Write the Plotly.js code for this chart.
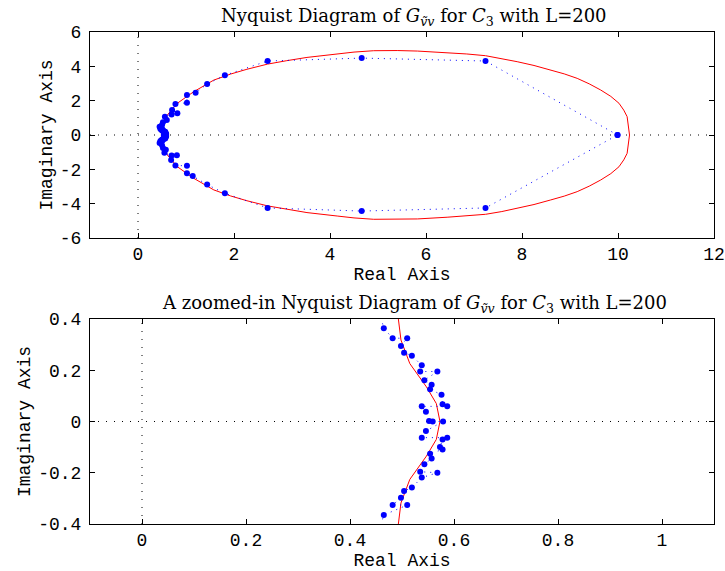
<!DOCTYPE html>
<html>
<head>
<meta charset="utf-8">
<script src="https://cdn.plot.ly/plotly-3.0.1.min.js"></script>
<style>
  html, body { margin: 0; padding: 0; background: #ffffff; }
  #chart { width: 725px; height: 571px; }
</style>
</head>
<body>
<div id="chart"></div>
<script>
// ---- Data ----
// Red curve (true frequency response), closed loop: upper half then lower half
const redRe = [10.24, 10.22, 10.19, 10.12, 10.02, 9.85, 9.64, 9.40, 9.15, 8.88, 8.59, 8.25, 7.90, 7.58, 7.24, 6.85, 6.44, 5.82, 5.40, 4.91, 4.50, 4.15, 3.52, 3.10, 2.70, 2.27, 1.93, 1.58, 1.16, 0.82, 0.61, 0.53, 0.50, 0.493, 0.498, 0.515, 0.547, 0.566, 0.573,
               0.566, 0.547, 0.515, 0.498, 0.493, 0.50, 0.53, 0.61, 0.82, 1.16, 1.58, 1.93, 2.27, 2.70, 3.10, 3.52, 4.15, 4.50, 4.91, 5.40, 5.82, 6.44, 6.85, 7.24, 7.58, 7.90, 8.25, 8.59, 8.88, 9.15, 9.40, 9.64, 9.85, 10.02, 10.12, 10.19, 10.22, 10.24];
const redIm = [0, 0.55, 1.07, 1.45, 1.85, 2.25, 2.62, 2.98, 3.30, 3.56, 3.79, 4.05, 4.27, 4.46, 4.62, 4.72, 4.79, 4.89, 4.92, 4.91, 4.83, 4.72, 4.52, 4.33, 4.13, 3.83, 3.55, 3.20, 2.52, 1.85, 1.16, 0.70, 0.50, 0.40, 0.318, 0.226, 0.135, 0.07, 0,
               -0.07, -0.135, -0.226, -0.318, -0.40, -0.50, -0.70, -1.16, -1.85, -2.52, -3.20, -3.55, -3.83, -4.13, -4.33, -4.52, -4.72, -4.83, -4.91, -4.92, -4.89, -4.79, -4.72, -4.62, -4.46, -4.27, -4.05, -3.79, -3.56, -3.30, -2.98, -2.62, -2.25, -1.85, -1.45, -1.07, -0.55, 0];

// Blue estimated points (L=200), in plotting order
const estRe = [9.99, 7.24, 4.66, 2.70, 1.81, 1.44, 1.20, 1.02, 1.02, 0.78, 0.71, 0.82, 0.70, 0.56, 0.60, 0.52, 0.50, 0.45,
               0.465, 0.482, 0.510, 0.498, 0.504, 0.519, 0.538, 0.535, 0.568, 0.543, 0.557, 0.554, 0.576, 0.578, 0.587, 0.538, 0.546, 0.552, 0.559, 0.579,
               0.546, 0.538, 0.587, 0.578, 0.573, 0.578, 0.554, 0.557, 0.543, 0.535, 0.568, 0.538, 0.519, 0.504, 0.498, 0.482, 0.510, 0.465,
               0.45, 0.50, 0.52, 0.58, 0.55, 0.70, 0.81, 0.69, 0.78, 1.02, 1.02, 1.14, 1.44, 1.81, 2.70, 4.66, 7.24, 9.99];
const estIm = [0, 4.31, 4.48, 4.31, 3.48, 2.97, 2.46, 2.33, 1.88, 1.81, 1.46, 1.26, 1.20, 1.07, 0.88, 0.75, 0.58, 0.48,
               0.364, 0.325, 0.325, 0.295, 0.268, 0.257, 0.219, 0.195, 0.195, 0.161, 0.143, 0.126, 0.104, 0.067, 0.059, 0.059, 0.038, 0.002, 0.0, 0.0,
               -0.037, -0.063, -0.063, -0.070, -0.100, -0.109, -0.126, -0.144, -0.167, -0.196, -0.200, -0.219, -0.258, -0.271, -0.298, -0.326, -0.326, -0.365,
               -0.47, -0.60, -0.76, -0.86, -1.04, -1.20, -1.18, -1.46, -1.78, -1.79, -2.23, -2.39, -2.89, -3.40, -4.25, -4.43, -4.25, 0];

// Tick labels
const topXTicks = [0, 2, 4, 6, 8, 10, 12];
const topXText = ["0", "2", "4", "6", "8", "10", "12"];
const topYTicks = [-6, -4, -2, 0, 2, 4, 6];
const topYText = ["-6", "-4", "-2", "0", "2", "4", "6"];
const botXTicks = [0, 0.2, 0.4, 0.6, 0.8, 1];
const botXText = ["0", "0.2", "0.4", "0.6", "0.8", "1"];
const botYTicks = [-0.4, -0.2, 0, 0.2, 0.4];
const botYText = ["-0.4", "-0.2", "0", "0.2", "0.4"];

const titleTop = "Nyquist Diagram of <i>G</i><sub><i>ṽv</i></sub> for <i>C</i><sub>3</sub> with L=200";
const titleBot = "A zoomed-in Nyquist Diagram of <i>G</i><sub><i>ṽv</i></sub> for <i>C</i><sub>3</sub> with L=200";

// ---- Styling ----
const monoFont = { family: "Liberation Mono, Courier New, monospace", size: 18, color: "#000000" };
const serifFont = { family: "DejaVu Serif, Liberation Serif, serif", size: 18, color: "#000000", weight: 300 };

function axisBase(extra) {
  return Object.assign({
    showline: true, linecolor: "#000000", linewidth: 1, mirror: "allticks",
    ticks: "inside", ticklen: 5, tickcolor: "#000000", tickwidth: 1,
    showgrid: false, zeroline: false, tickfont: monoFont, tickmode: "array",
    ticklabelstandoff: 4
  }, extra);
}

const redStyle = { color: "#ff0000", width: 1 };
const blueLine = { color: "#0000ff", width: 1, dash: "1px,5px" };
const blueMarker = { color: "#0000ff", size: 6 };

const traces = [
  { x: redRe, y: redIm, xaxis: "x", yaxis: "y", mode: "lines", line: redStyle },
  { x: estRe, y: estIm, xaxis: "x", yaxis: "y", mode: "lines+markers", line: blueLine, marker: blueMarker },
  { x: redRe, y: redIm, xaxis: "x2", yaxis: "y2", mode: "lines", line: redStyle },
  { x: estRe, y: estIm, xaxis: "x2", yaxis: "y2", mode: "lines+markers", line: blueLine, marker: blueMarker }
];

const dotted = { color: "#000000", width: 1, dash: "1px,7px" };
const layout = {
  width: 725, height: 571,
  margin: { l: 90, r: 11, t: 32, b: 47 },
  paper_bgcolor: "#ffffff", plot_bgcolor: "#ffffff",
  showlegend: false,
  xaxis: axisBase({ domain: [0, 1], anchor: "y", range: [-1, 12], tickvals: topXTicks, ticktext: topXText,
                    ticklabelstandoff: -1, title: { text: "Real Axis", font: monoFont, standoff: 0 } }),
  yaxis: axisBase({ domain: [0.5813, 1], anchor: "x", range: [-6, 6], tickvals: topYTicks, ticktext: topYText,
                    title: { text: "Imaginary Axis", font: monoFont, standoff: 2 } }),
  xaxis2: axisBase({ domain: [0, 1], anchor: "y2", range: [-0.1, 1.1], tickvals: botXTicks, ticktext: botXText,
                     ticklabelstandoff: -1, title: { text: "Real Axis", font: monoFont, standoff: 0 } }),
  yaxis2: axisBase({ domain: [0, 0.4167], anchor: "x2", range: [-0.4, 0.4], tickvals: botYTicks, ticktext: botYText,
                     title: { text: "Imaginary Axis", font: monoFont, standoff: 2 } }),
  shapes: [
    { type: "line", xref: "x", yref: "y domain", x0: 0, x1: 0, y0: 0, y1: 1, line: dotted, layer: "below" },
    { type: "line", xref: "x domain", yref: "y", x0: 0, x1: 1, y0: 0, y1: 0, line: dotted, layer: "below" },
    { type: "line", xref: "x2", yref: "y2 domain", x0: 0, x1: 0, y0: 0, y1: 1, line: dotted, layer: "below" },
    { type: "line", xref: "x2 domain", yref: "y2", x0: 0, x1: 1, y0: 0, y1: 0, line: dotted, layer: "below" }
  ],
  annotations: [
    { text: titleTop, xref: "paper", yref: "paper", x: 0.52, y: 1, xanchor: "center", yanchor: "bottom",
      yshift: 1, showarrow: false, font: serifFont },
    { text: titleBot, xref: "paper", yref: "paper", x: 0.52, y: 0.4167, xanchor: "center", yanchor: "bottom",
      yshift: 1, showarrow: false, font: serifFont }
  ]
};

Plotly.newPlot("chart", traces, layout, { displayModeBar: false, staticPlot: true });
</script>
</body>
</html>
